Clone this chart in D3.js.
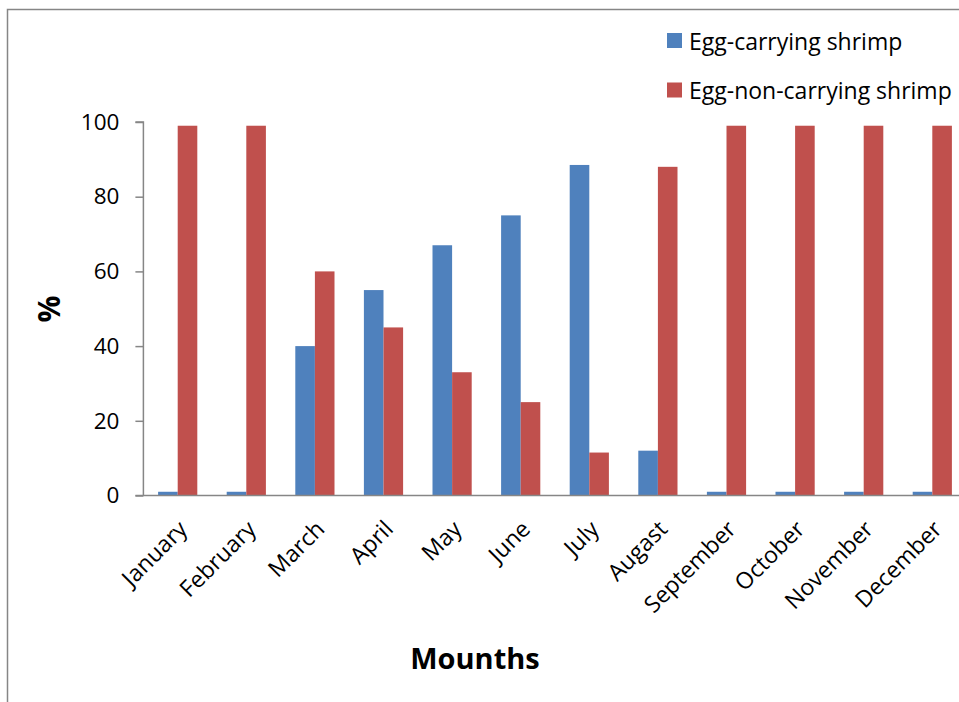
<!DOCTYPE html>
<html>
<head>
<meta charset="utf-8">
<script src="https://cdn.jsdelivr.net/npm/d3@7"></script>
<style>
  html, body { margin: 0; padding: 0; background: #fff; }
  svg { display: block; font-family: "Open Sans", "Liberation Sans", sans-serif; }
</style>
</head>
<body>
<svg id="chart" width="959" height="702"></svg>
<script>
// Monthly share of egg-carrying vs. non-carrying shrimp (%)
const months = ["January", "February", "March", "April", "May", "June",
                "July", "Augast", "September", "October", "November", "December"];
const eggCarrying    = [1, 1, 40, 55, 67, 75, 88.5, 12, 1, 1, 1, 1];
const eggNonCarrying = [99, 99, 60, 45, 33, 25, 11.5, 88, 99, 99, 99, 99];
const seriesNames  = ["Egg-carrying shrimp", "Egg-non-carrying shrimp"];
const seriesColors = ["#4F81BD", "#C0504D"];
const yTicks = [0, 20, 40, 60, 80, 100];

const svg = d3.select("#chart");

// outer frame of the chart area
svg.append("path")
  .attr("d", "M7.5,702 V9.5 H960")
  .attr("fill", "none")
  .attr("stroke", "#868686")
  .attr("stroke-width", 1.5);

const plot = { left: 143.4, top: 122, width: 823.2, height: 373.5 };

const x0 = d3.scaleBand()
  .domain(months)
  .range([plot.left, plot.left + plot.width])
  .paddingInner(0)
  .paddingOuter(0);

const groupPad = x0.bandwidth() * 1.5 / 3.5 / 2;
const x1 = d3.scaleBand()
  .domain(d3.range(seriesNames.length))
  .range([groupPad, x0.bandwidth() - groupPad]);

const y = d3.scaleLinear()
  .domain([0, 100])
  .range([plot.top + plot.height, plot.top]);

// y axis
const yAxis = d3.axisLeft(y)
  .tickValues(yTicks)
  .tickSize(8)
  .tickPadding(16)
  .tickFormat(d3.format("d"));

const gy = svg.append("g")
  .attr("transform", `translate(${plot.left},0)`)
  .call(yAxis);
gy.select(".domain").attr("stroke", "#868686").attr("stroke-width", 1.5)
  .attr("d", `M-8,${y(100)}H0V${y(0)}`);
gy.selectAll(".tick line").attr("stroke", "#868686").attr("stroke-width", 1.5);
gy.selectAll(".tick text")
  .attr("fill", "#000")
  .style("font-size", "22.5px")
  .style("font-family", "'Open Sans', sans-serif");

// bars
const data = months.map((m, i) => ({ month: m, values: [eggCarrying[i], eggNonCarrying[i]] }));

const groups = svg.append("g").selectAll("g")
  .data(data)
  .join("g")
  .attr("transform", d => `translate(${x0(d.month)},0)`);

groups.selectAll("rect")
  .data(d => d.values.map((v, k) => ({ k, v })))
  .join("rect")
  .attr("x", d => x1(d.k))
  .attr("width", x1.bandwidth())
  .attr("y", d => y(d.v))
  .attr("height", d => y(0) - y(d.v))
  .attr("fill", d => seriesColors[d.k]);

// x axis (baseline, no tick marks)
const xAxis = d3.axisBottom(x0).tickSize(0).tickPadding(0);
const gx = svg.append("g")
  .attr("transform", `translate(0,${y(0)})`)
  .call(xAxis);
gx.select(".domain").attr("stroke", "#868686").attr("stroke-width", 1.5)
  .attr("d", `M${plot.left - 8},0H${plot.left + plot.width}`);
gx.selectAll(".tick text")
  .attr("fill", "#000")
  .style("font-size", "23px")
  .style("font-family", "'Open Sans', sans-serif")
  .attr("text-anchor", "end")
  .attr("dy", null)
  .attr("y", null)
  .attr("transform", "translate(11,35) rotate(-45)");

// axis titles
svg.append("text")
  .attr("transform", "translate(60,309) rotate(-90)")
  .attr("text-anchor", "middle")
  .style("font-size", "30px")
  .style("font-weight", "bold")
  .text("%");

svg.append("text")
  .attr("x", 475)
  .attr("y", 669)
  .attr("text-anchor", "middle")
  .style("font-size", "29px")
  .style("font-weight", "bold")
  .text("Mounths");

// legend
const legend = svg.append("g").selectAll("g")
  .data(seriesNames)
  .join("g")
  .attr("transform", (d, i) => `translate(667,${33 + i * 49.5})`);

legend.append("rect")
  .attr("width", 15)
  .attr("height", 15)
  .attr("fill", (d, i) => seriesColors[i]);

legend.append("text")
  .attr("x", 22)
  .attr("y", 16.5)
  .style("font-size", "23px")
  .text(d => d);
</script>
</body>
</html>
